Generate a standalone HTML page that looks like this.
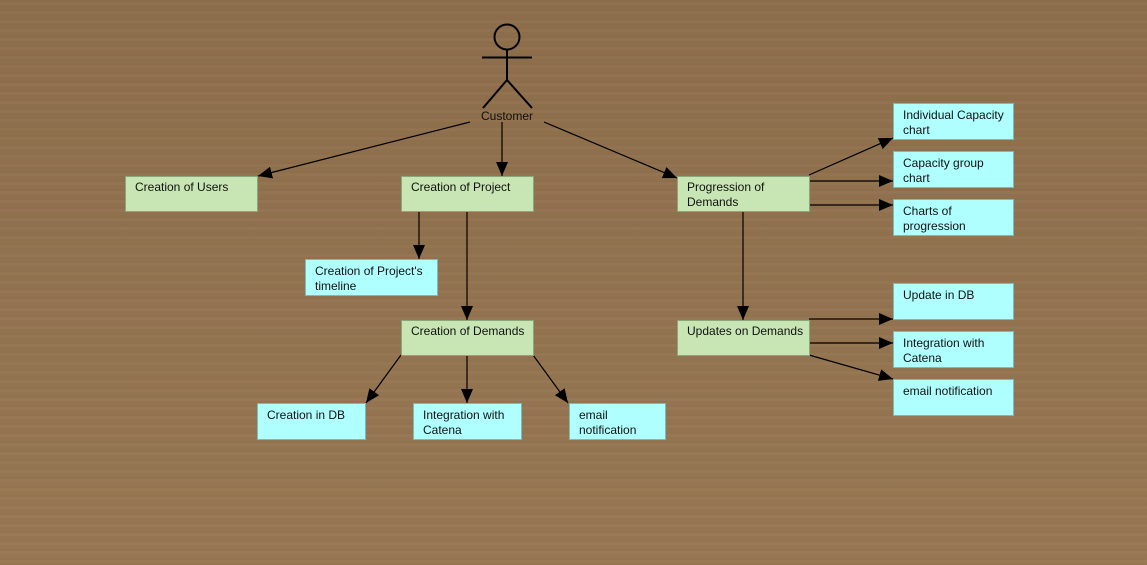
<!DOCTYPE html>
<html><head><meta charset="utf-8"><style>
html,body{margin:0;padding:0;width:1147px;height:565px;overflow:hidden}
body{background:
repeating-linear-gradient(180deg,rgba(0,0,0,0.025) 0px,rgba(0,0,0,0.025) 2px,rgba(255,255,255,0.02) 2px,rgba(255,255,255,0.02) 5px,rgba(0,0,0,0.01) 5px,rgba(0,0,0,0.01) 9px),
linear-gradient(180deg,#8e6e4b 0%,#937350 50%,#987853 100%);}
svg{position:absolute;left:0;top:0}
text{font-family:"Liberation Sans",sans-serif;font-size:12px;fill:#111}
.g{fill:#c8e6b4;stroke:#8aa67a;stroke-width:1}
.c{fill:#b0ffff;stroke:#7fb8b8;stroke-width:1}
line{stroke:#000;stroke-width:1.2}
</style></head><body>
<svg width="1147" height="565" viewBox="0 0 1147 565">
<defs><marker id="a" markerWidth="14" markerHeight="12" refX="14" refY="6" orient="auto" markerUnits="userSpaceOnUse"><path d="M0,0 L14,6 L0,12 z" fill="#000"/></marker></defs>
<g stroke="#000" stroke-width="2" fill="none">
<circle cx="507" cy="37" r="12.5"/>
<line x1="507" y1="50" x2="507" y2="80" style="stroke-width:2"/>
<line x1="482" y1="57.5" x2="532" y2="57.5" style="stroke-width:2"/>
<line x1="507" y1="80" x2="483" y2="108" style="stroke-width:2"/>
<line x1="507" y1="80" x2="532" y2="108" style="stroke-width:2"/>
</g>
<text x="507" y="120" text-anchor="middle">Customer</text>
<line x1="470" y1="122" x2="258" y2="176" marker-end="url(#a)"/>
<line x1="502" y1="122" x2="502" y2="176" marker-end="url(#a)"/>
<line x1="544" y1="122" x2="677" y2="178" marker-end="url(#a)"/>
<line x1="419" y1="211" x2="419" y2="259" marker-end="url(#a)"/>
<line x1="467" y1="211" x2="467" y2="320" marker-end="url(#a)"/>
<line x1="743" y1="211" x2="743" y2="320" marker-end="url(#a)"/>
<line x1="809" y1="175" x2="893" y2="138" marker-end="url(#a)"/>
<line x1="809" y1="181" x2="893" y2="181" marker-end="url(#a)"/>
<line x1="809" y1="205" x2="893" y2="205" marker-end="url(#a)"/>
<line x1="809" y1="319" x2="893" y2="319" marker-end="url(#a)"/>
<line x1="809" y1="343" x2="893" y2="343" marker-end="url(#a)"/>
<line x1="809" y1="355" x2="893" y2="379" marker-end="url(#a)"/>
<line x1="401" y1="355" x2="366" y2="403" marker-end="url(#a)"/>
<line x1="467" y1="355" x2="467" y2="403" marker-end="url(#a)"/>
<line x1="533" y1="355" x2="568" y2="403" marker-end="url(#a)"/>
<rect class="g" x="125.5" y="176.5" width="132" height="35"/><text x="135" y="191">Creation of Users</text>
<rect class="g" x="401.5" y="176.5" width="132" height="35"/><text x="411" y="191">Creation of Project</text>
<rect class="g" x="677.5" y="176.5" width="132" height="35"/><text x="687" y="191">Progression of</text><text x="687" y="206">Demands</text>
<rect class="g" x="401.5" y="320.5" width="132" height="35"/><text x="411" y="335">Creation of Demands</text>
<rect class="g" x="677.5" y="320.5" width="132" height="35"/><text x="687" y="335">Updates on Demands</text>
<rect class="c" x="305.5" y="259.5" width="132" height="36"/><text x="315" y="275">Creation of Project's</text><text x="315" y="290">timeline</text>
<rect class="c" x="257.5" y="403.5" width="108" height="36"/><text x="267" y="419">Creation in DB</text>
<rect class="c" x="413.5" y="403.5" width="108" height="36"/><text x="423" y="419">Integration with</text><text x="423" y="434">Catena</text>
<rect class="c" x="569.5" y="403.5" width="96" height="36"/><text x="579" y="419">email</text><text x="579" y="434">notification</text>
<rect class="c" x="893.5" y="103.5" width="120" height="36"/><text x="903" y="119">Individual Capacity</text><text x="903" y="134">chart</text>
<rect class="c" x="893.5" y="151.5" width="120" height="36"/><text x="903" y="167">Capacity group</text><text x="903" y="182">chart</text>
<rect class="c" x="893.5" y="199.5" width="120" height="36"/><text x="903" y="215">Charts of</text><text x="903" y="230">progression</text>
<rect class="c" x="893.5" y="283.5" width="120" height="36"/><text x="903" y="299">Update in DB</text>
<rect class="c" x="893.5" y="331.5" width="120" height="36"/><text x="903" y="347">Integration with</text><text x="903" y="362">Catena</text>
<rect class="c" x="893.5" y="379.5" width="120" height="36"/><text x="903" y="395">email notification</text>
</svg>
</body></html>
